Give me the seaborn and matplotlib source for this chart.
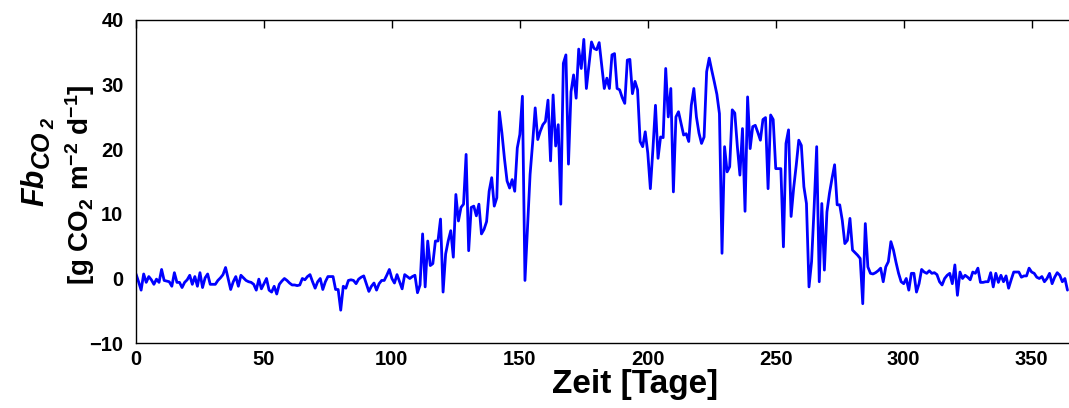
import numpy as np
import pandas as pd
import matplotlib
matplotlib.use("Agg")
import matplotlib.pyplot as plt
import seaborn as sns

# Daily soil CO2 flux over one year (day of year 0..364)
flux = [
    0.7, -0.5, -1.8, 0.7, -0.6, 0.3, -0.2, -0.9, -0.1, -0.6,
    1.4, -0.3, -0.4, -0.5, -1.2, 0.9, -0.6, -0.6, -1.4, -0.6,
    -0.2, 0.5, -0.9, 0.3, -1.2, 0.9, -1.4, 0.1, 0.7, -0.9,
    -0.9, -0.9, -0.3, 0.1, 0.6, 1.7, 0.0, -1.7, -0.5, 0.3,
    -1.2, 0.5, 0.1, -0.3, -0.5, -0.6, -0.9, -1.8, -0.1, -1.6,
    -0.8, 0.0, -1.8, -2.1, -1.2, -2.4, -0.9, -0.4, 0.0, -0.3,
    -0.7, -1.0, -1.0, -1.1, -1.0, 0.0, -0.2, 0.3, 0.6, -0.5,
    -1.5, -0.5, 0.0, -1.7, -0.5, 0.3, 0.3, 0.3, -1.7, -1.7,
    -4.9, -1.2, -1.5, -0.3, -0.2, -0.3, -0.8, -0.1, 0.2, 0.4,
    -0.8, -2.0, -1.2, -0.7, -1.8, -0.8, -0.3, -0.3, 0.5, 1.4,
    0.0, -0.7, 0.6, -0.5, -1.6, 0.6, 0.3, 0.0, 0.3, 0.5,
    -2.2, -1.0, 6.9, -1.3, 5.8, 2.0, 2.3, 5.8, 5.8, 9.2,
    -2.1, 3.8, 5.8, 7.4, 3.3, 13.0, 8.9, 11.0, 11.5, 19.2,
    4.3, 11.0, 11.2, 9.7, 11.5, 6.9, 7.6, 8.8, 13.5, 15.6,
    11.2, 12.5, 25.8, 22.5, 18.5, 15.1, 14.0, 15.3, 13.5, 20.2,
    22.3, 28.2, -0.3, 8.0, 16.1, 21.0, 26.4, 21.5, 22.8, 23.8,
    24.3, 27.6, 18.2, 28.4, 20.5, 23.8, 11.5, 33.3, 34.6, 17.7,
    28.9, 31.5, 27.9, 35.5, 32.5, 37.0, 29.4, 33.0, 36.6, 35.6,
    35.4, 36.5, 33.0, 29.4, 31.0, 29.4, 34.6, 34.8, 29.4, 29.2,
    28.0, 27.1, 33.8, 33.9, 28.6, 30.5, 29.2, 21.2, 20.4, 22.7,
    19.4, 13.9, 20.0, 26.8, 18.6, 21.9, 21.8, 32.5, 25.0, 29.4,
    13.4, 25.0, 25.8, 24.0, 22.2, 22.4, 21.2, 26.8, 29.4, 25.0,
    22.5, 20.9, 21.9, 32.0, 34.1, 32.2, 30.4, 28.5, 25.5, 3.9,
    20.4, 16.5, 17.3, 26.1, 25.6, 20.4, 16.0, 23.2, 10.4, 28.1,
    20.1, 23.5, 23.7, 22.6, 21.4, 24.6, 24.9, 13.9, 25.3, 24.6,
    17.0, 17.0, 17.0, 4.9, 20.9, 23.0, 9.6, 14.0, 17.5, 21.4,
    20.6, 14.2, 11.6, -1.3, 2.6, 11.0, 20.4, -0.5, 11.6, 1.3,
    10.3, 13.2, 15.5, 17.6, 11.4, 11.4, 9.0, 5.4, 5.9, 9.3,
    4.4, 4.0, 3.6, 3.1, -3.9, 8.5, 1.8, 0.8, 0.7, 0.9,
    1.2, 1.6, -0.5, 1.8, 2.6, 5.7, 4.4, 2.5, 0.8, -0.5,
    -0.8, 0.0, -1.8, 0.8, 0.8, -2.1, -0.8, 1.4, 1.0, 0.8,
    1.2, 0.8, 0.9, 0.6, -0.5, -1.0, 0.0, 0.5, 0.8, -0.8,
    2.1, -2.6, 1.0, 0.0, 0.5, 0.2, -0.2, 1.0, 0.8, 1.6,
    -0.6, -0.6, -0.5, -0.5, 0.9, -1.3, 0.8, -0.6, 0.5, -0.5,
    0.4, -1.5, -0.2, 1.0, 1.0, 1.0, 0.2, 0.4, 0.4, 1.6,
    1.0, 0.8, 0.2, 0.0, 0.3, -0.5, 0.0, 0.8, -0.8, 0.2,
    0.9, 0.5, -0.5, 0.0, -1.8,
]
days = list(range(len(flux)))

x_ticks = [0, 50, 100, 150, 200, 250, 300, 350]
y_ticks = [-10, 0, 10, 20, 30, 40]

sns.set_style("white")
plt.rcParams["font.family"] = ["Liberation Sans", "DejaVu Sans"]
plt.rcParams["font.weight"] = "bold"
plt.rcParams["mathtext.fontset"] = "custom"
plt.rcParams["mathtext.rm"] = "Liberation Sans:bold"
plt.rcParams["mathtext.bf"] = "Liberation Sans:bold"
plt.rcParams["mathtext.it"] = "Liberation Sans:bold:italic"
plt.rcParams["text.color"] = "black"
plt.rcParams["axes.labelcolor"] = "black"

df = pd.DataFrame({"Tag": days, "Fb": flux})

W, H = 1069, 408
fig = plt.figure(figsize=(W / 100, H / 100), dpi=100)
# the axes box runs past the right edge of the figure, so only its left part shows
ax_left, ax_right = 136, 1134
ax = fig.add_axes([ax_left / W, 0.159, (ax_right - ax_left) / W, 0.792])

sns.lineplot(data=df, x="Tag", y="Fb", ax=ax, color=(0, 0, 1), linewidth=2.0)

ax.set_xlim(0, 390)
ax.set_ylim(-10, 40)
ax.set_xticks(x_ticks)
ax.set_yticks(y_ticks)
ax.tick_params(direction="in", length=6, width=1, top=True, right=True,
               labelsize=14.5, colors="black")
ax.tick_params(axis="y", pad=9)
ax.tick_params(axis="x", pad=5)
for lab in ax.get_xticklabels() + ax.get_yticklabels():
    lab.set_fontweight("bold")

for s in ax.spines.values():
    s.set_visible(True)
    s.set_color("black")
    s.set_linewidth(1.0)

ax.set_xlabel("Zeit [Tage]", fontsize=24, fontweight="bold", labelpad=0)
ax.set_ylabel("")

# y-axis label, second line: units
fig.text(80 / W, 1 - 185 / H, r"[g CO$_2$ m$^{-2}$ d$^{-1}$]", rotation=90,
         ha="center", va="center", fontsize=20, fontweight="bold")

# y-axis label, first line: Fb with subscript CO2 (rotated, reads bottom-up)
renderer = fig.canvas.get_renderer()
pieces = [("Fb", 22, 0.0), ("CO", 18, 6.0), ("2", 13, 11.0)]
base_x, cur_y = 43.0, 206.0
for txt, size, shift in pieces:
    t = fig.text((base_x + shift) / W, 1 - cur_y / H, txt, rotation=90,
                 rotation_mode="anchor", ha="left", va="baseline",
                 fontsize=size, fontweight="bold", fontstyle="italic")
    ext = t.get_window_extent(renderer)
    cur_y -= ext.height + 1.0

fig.savefig("out.png", dpi=100, facecolor="white")
